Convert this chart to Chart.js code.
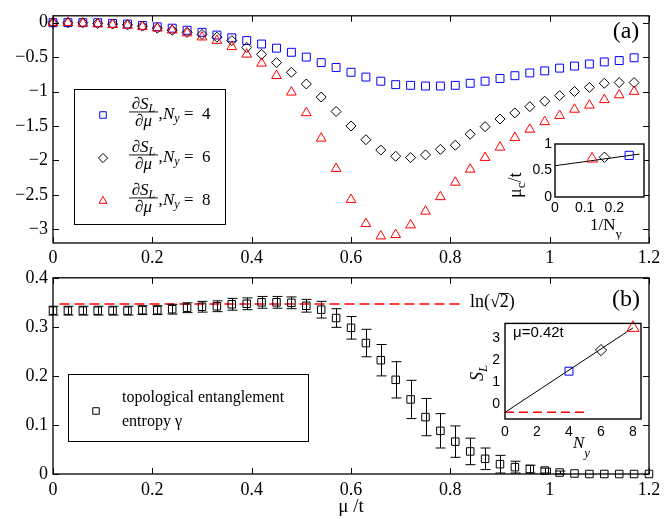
<!DOCTYPE html>
<html>
<head>
<meta charset="utf-8">
<script src="https://cdn.jsdelivr.net/npm/chart.js@4.4.1/dist/chart.umd.min.js"></script>
<style>
  html, body { margin: 0; padding: 0; background: #fff; }
  #wrap { position: relative; width: 672px; height: 519px; overflow: hidden; background: #fff; }
  canvas { position: absolute; }
</style>
</head>
<body>
<div id="wrap">
  <canvas id="chartA" width="672" height="272" style="left:0px;top:0px"></canvas>
  <canvas id="chartB" width="672" height="257" style="left:0px;top:262px"></canvas>
  <canvas id="insetA" width="160" height="110" style="left:505px;top:130px"></canvas>
  <canvas id="insetB" width="200" height="155" style="left:460px;top:310px"></canvas>
</div>
<script>
// ---- panel (a): dS_L/dmu for three widths
const muA = [0, 0.03, 0.06, 0.09, 0.12, 0.15, 0.18, 0.21, 0.24, 0.27,
  0.30, 0.33, 0.36, 0.39, 0.42, 0.45, 0.48, 0.51, 0.54, 0.57,
  0.60, 0.63, 0.66, 0.69, 0.72, 0.75, 0.78, 0.81, 0.84, 0.87,
  0.90, 0.93, 0.96, 0.99, 1.02, 1.05, 1.08, 1.11, 1.14, 1.17];
const dS4 = [0, 0, 0, 0, -0.01, -0.02, -0.04, -0.06, -0.08, -0.11,
  -0.14, -0.18, -0.22, -0.26, -0.31, -0.37, -0.43, -0.50, -0.58, -0.65,
  -0.72, -0.79, -0.85, -0.90, -0.91, -0.92, -0.92, -0.91, -0.88, -0.85,
  -0.81, -0.77, -0.73, -0.70, -0.66, -0.63, -0.60, -0.57, -0.55, -0.51];
const dS6 = [0, 0, 0, -0.01, -0.02, -0.03, -0.05, -0.08, -0.11, -0.14,
  -0.17, -0.21, -0.26, -0.36, -0.46, -0.58, -0.72, -0.89, -1.08, -1.29,
  -1.50, -1.70, -1.85, -1.94, -1.96, -1.92, -1.84, -1.78, -1.62, -1.51,
  -1.40, -1.31, -1.22, -1.14, -1.06, -1.00, -0.94, -0.88, -0.87, -0.87];
const dS8 = [0, 0, -0.01, -0.02, -0.03, -0.04, -0.06, -0.08, -0.11, -0.15,
  -0.21, -0.26, -0.35, -0.46, -0.59, -0.77, -1.01, -1.31, -1.68, -2.12,
  -2.57, -2.92, -3.10, -3.08, -2.94, -2.74, -2.53, -2.32, -2.13, -1.96,
  -1.81, -1.67, -1.55, -1.44, -1.35, -1.26, -1.20, -1.12, -1.05, -1.00];
const widthsNy = [4, 6, 8];

// ---- panel (b): topological entanglement entropy
const muB = [0, 0.03, 0.06, 0.09, 0.12, 0.15, 0.18, 0.21, 0.24, 0.27,
  0.30, 0.33, 0.36, 0.39, 0.42, 0.45, 0.48, 0.51, 0.54, 0.57,
  0.60, 0.63, 0.66, 0.69, 0.72, 0.75, 0.78, 0.81, 0.84, 0.87,
  0.90, 0.93, 0.96, 0.99, 1.02, 1.05, 1.08, 1.11, 1.14, 1.17, 1.20];
const gamma = [0.333, 0.333, 0.333, 0.333, 0.333, 0.333, 0.334, 0.334, 0.336, 0.339,
  0.341, 0.342, 0.346, 0.347, 0.350, 0.350, 0.349, 0.343, 0.335, 0.318,
  0.298, 0.267, 0.232, 0.192, 0.152, 0.116, 0.088, 0.066, 0.046, 0.031,
  0.020, 0.014, 0.010, 0.007, 0.003, 0.001, 0, 0, 0, 0, 0];
const gammaErr = [0.009, 0.009, 0.009, 0.009, 0.009, 0.009, 0.009, 0.009, 0.010, 0.010,
  0.011, 0.011, 0.012, 0.012, 0.012, 0.012, 0.012, 0.013, 0.017, 0.019,
  0.023, 0.028, 0.032, 0.037, 0.039, 0.038, 0.035, 0.032, 0.027, 0.022,
  0.018, 0.012, 0.008, 0.005, 0.003, 0, 0, 0, 0, 0, 0];
const lnLineX = [0.013, 0.82];
const LN_SQRT2 = 0.3466;

const xTicks = [0, 0.2, 0.4, 0.6, 0.8, 1, 1.2];
const yTicksA = [-3, -2.5, -2, -1.5, -1, -0.5, 0];
const yTicksB = [0, 0.1, 0.2, 0.3, 0.4];

// ---- inset (a): critical mu vs 1/Ny
const invNy = [0.25, 0.1667, 0.125];
const muC = [0.785, 0.75, 0.72];
const fitAx = [0, 0.285];
const fitAy = [0.59, 0.81];
const insetAxTicks = [0, 0.1, 0.2];
const insetAyTicks = [0, 0.5, 1];

// ---- inset (b): S_L vs Ny at mu = 0.42t
const SL = [1.5, 2.45, 3.45];
const fitBx = [0, 8];
const fitBy = [-0.35, 3.45];
const gammaLineX = [0, 5.2];
const gammaLineY = [-0.35, -0.35];
const insetBxTicks = [0, 2, 4, 6, 8];
const insetByTicks = [0, 1, 2, 3];

const COLORS = ['#0000ff', '#000000', '#ff0000'];
const STYLES = ['rect', 'rectRot', 'triangle'];
const SERIF = '"Liberation Serif"';
const SANS = '"Liberation Sans"';
const B_TOP = 262;

Chart.defaults.font.family = SERIF;
Chart.defaults.color = '#000';
Chart.defaults.animation = false;

const pts = (xs, ys) => xs.map((x, i) => ({ x: x, y: ys[i] }));
const minus = v => (v < 0 ? '\u2212' + Math.abs(v) : String(v));

function axis(min, max, ticks, o) {
  return {
    type: 'linear', min: min, max: max,
    grid: { display: false, drawTicks: false, tickLength: 0 },
    border: { display: false },
    afterBuildTicks: s => { s.ticks = ticks.map(v => ({ value: v })); },
    ticks: { color: '#000', font: o.font, padding: o.pad, autoSkip: false, maxRotation: 0,
             callback: o.cb || (v => String(v)) },
    afterFit: s => {
      if (o.w != null) s.width = o.w;
      if (o.h != null) s.height = o.h;
    },
    title: o.title || { display: false }
  };
}

function frame(lw, tickLen) {
  return {
    id: 'frame',
    beforeDatasetsDraw(chart) {
      const { ctx, chartArea: a } = chart;
      ctx.save();
      ctx.fillStyle = '#fff';
      ctx.fillRect(a.left, a.top, a.right - a.left, a.bottom - a.top);
      ctx.restore();
    },
    afterDraw(chart) {
      const { ctx, chartArea: a, scales } = chart;
      ctx.save();
      ctx.strokeStyle = '#000';
      ctx.lineWidth = lw;
      ctx.strokeRect(a.left, a.top, a.right - a.left, a.bottom - a.top);
      if (tickLen) {
        ctx.lineWidth = 1;
        ctx.beginPath();
        scales.x.ticks.forEach(t => {
          const px = Math.round(scales.x.getPixelForValue(t.value)) + 0.5;
          ctx.moveTo(px, a.bottom); ctx.lineTo(px, a.bottom - tickLen);
          ctx.moveTo(px, a.top); ctx.lineTo(px, a.top + tickLen);
        });
        scales.y.ticks.forEach(t => {
          const py = Math.round(scales.y.getPixelForValue(t.value)) + 0.5;
          ctx.moveTo(a.left, py); ctx.lineTo(a.left + tickLen, py);
          ctx.moveTo(a.right, py); ctx.lineTo(a.right - tickLen, py);
        });
        ctx.stroke();
      }
      ctx.restore();
    }
  };
}

// draw a run of text pieces [text, font, dy] left to right, returns width
function run(ctx, parts, x, y, measureOnly) {
  let cx = x;
  parts.forEach(p => {
    ctx.font = p[1];
    if (!measureOnly) ctx.fillText(p[0], cx, y + (p[2] || 0));
    cx += ctx.measureText(p[0]).width;
  });
  return cx - x;
}

function rotRun(ctx, parts, x, y) {
  ctx.save();
  ctx.translate(x, y);
  ctx.rotate(-Math.PI / 2);
  run(ctx, parts, 0, 0);
  ctx.restore();
}

function marker(ctx, style, color, r, x, y) {
  ctx.save();
  ctx.strokeStyle = color;
  ctx.fillStyle = 'rgba(0,0,0,0)';
  ctx.lineWidth = 1;
  Chart.helpers.drawPoint(ctx, { pointStyle: style, radius: r, borderWidth: 1, rotation: 0 }, x, y);
  ctx.restore();
}

const legendA = {
  id: 'legendA',
  afterDraw(chart) {
    const ctx = chart.ctx;
    ctx.save();
    ctx.fillStyle = '#fff';
    ctx.fillRect(74, 89, 152, 135);
    ctx.strokeStyle = '#000';
    ctx.lineWidth = 1;
    ctx.strokeRect(74.5, 89.5, 151, 135);
    const IT = 'italic 17px ' + SERIF, SUB = 'italic 12px ' + SERIF, RM = '17px ' + SERIF;
    ctx.textBaseline = 'alphabetic';
    widthsNy.forEach((n, i) => {
      const cy = 115 + 43 * i;
      marker(ctx, STYLES[i], COLORS[i], 4.6, 103, cy);
      ctx.fillStyle = '#000';
      const num = [['\u2202', IT], ['S', IT], ['L', SUB, 3]];
      const den = [['\u2202', IT], ['\u03bc', IT]];
      const wn = run(ctx, num, 0, 0, true), wd = run(ctx, den, 0, 0, true);
      run(ctx, num, 143.5 - wn / 2, cy - 6.5);
      run(ctx, den, 143.5 - wd / 2, cy + 11);
      ctx.fillRect(129, cy - 3.5, 29, 0.9);
      run(ctx, [[',', RM]], 158.5, cy + 4);
      run(ctx, [['N', IT], ['y', SUB, 3]], 163, cy + 4);
      run(ctx, [['=', RM]], 184, cy + 4);
      run(ctx, [[String(n), RM]], 202, cy + 4);
    });
    ctx.font = '24px ' + SERIF;
    ctx.textAlign = 'center';
    ctx.textBaseline = 'middle';
    ctx.fillText('(a)', 626, 32);
    ctx.restore();
  }
};

const errorBars = {
  id: 'errorBars',
  afterDatasetsDraw(chart) {
    const { ctx, scales: { x, y } } = chart;
    ctx.save();
    ctx.strokeStyle = '#000';
    ctx.lineWidth = 1;
    ctx.beginPath();
    muB.forEach((m, i) => {
      const e = gammaErr[i];
      if (!e) return;
      const px = Math.round(x.getPixelForValue(m)) + 0.5;
      const y1 = y.getPixelForValue(gamma[i] + e), y2 = y.getPixelForValue(gamma[i] - e);
      ctx.moveTo(px, y1); ctx.lineTo(px, y2);
      ctx.moveTo(px - 5, y1); ctx.lineTo(px + 5, y1);
      ctx.moveTo(px - 5, y2); ctx.lineTo(px + 5, y2);
    });
    ctx.stroke();
    ctx.restore();
  }
};

const legendB = {
  id: 'legendB',
  afterDraw(chart) {
    const ctx = chart.ctx;
    ctx.save();
    ctx.fillStyle = '#fff';
    ctx.fillRect(68, 374 - B_TOP, 240, 68);
    ctx.strokeStyle = '#000';
    ctx.lineWidth = 1;
    ctx.strokeRect(68.5, 374.5 - B_TOP, 240, 67);
    marker(ctx, 'rect', '#000', 4.6, 96, 411 - B_TOP);
    ctx.fillStyle = '#000';
    ctx.font = '16px ' + SERIF;
    ctx.textBaseline = 'middle';
    ctx.fillText('topological entanglement', 122, 398 - B_TOP);
    ctx.fillText('entropy \u03b3', 122, 422 - B_TOP);
    // ln(sqrt2) label
    ctx.font = '18px ' + SERIF;
    const lx = 470, ly = 302 - B_TOP;
    ctx.fillText('ln(\u221a2)', lx, ly);
    const w0 = ctx.measureText('ln(\u221a').width, w1 = ctx.measureText('ln(\u221a2').width;
    ctx.fillRect(lx + w0 - 1, ly - 9, w1 - w0 + 1, 0.9);
    ctx.font = '24px ' + SERIF;
    ctx.textAlign = 'center';
    ctx.fillText('(b)', 626, 300 - B_TOP);
    ctx.restore();
  }
};

const labelsInsetA = {
  id: 'labelsInsetA',
  afterDraw(chart) {
    const ctx = chart.ctx;
    ctx.save();
    ctx.fillStyle = '#000';
    ctx.textBaseline = 'alphabetic';
    run(ctx, [['1/N', '17px ' + SERIF], ['y', '13px ' + SERIF, 8]], 590 - 505, 230 - 130);
    rotRun(ctx, [['\u03bc', '18px ' + SERIF], ['c', '13px ' + SERIF, 4], ['/t', '18px ' + SERIF]], 521 - 505, 198 - 130);
    ctx.restore();
  }
};

const labelsInsetB = {
  id: 'labelsInsetB',
  afterDraw(chart) {
    const ctx = chart.ctx;
    ctx.save();
    ctx.fillStyle = '#000';
    ctx.textBaseline = 'alphabetic';
    run(ctx, [['N', 'italic 17px ' + SERIF], ['y', 'italic 13px ' + SERIF, 9]], 573 - 460, 448 - 310);
    rotRun(ctx, [['S', 'italic 18px ' + SERIF], ['L', 'italic 13px ' + SERIF, 4]], 483 - 460, 381 - 310);
    ctx.font = '15px ' + SANS;
    ctx.textBaseline = 'middle';
    ctx.fillText('\u03bc=0.42t', 513 - 460, 333 - 310);
    ctx.restore();
  }
};

const common = {
  responsive: false,
  devicePixelRatio: 1,
  animation: false,
  events: [],
  plugins: { legend: { display: false }, tooltip: { enabled: false } }
};

// panel (a)
new Chart(document.getElementById('chartA'), {
  type: 'scatter',
  data: {
    datasets: [dS4, dS6, dS8].map((ys, i) => ({
      data: pts(muA, ys),
      showLine: false,
      pointStyle: STYLES[i],
      pointRadius: [5.6, 5, 5.6][i],
      pointBorderColor: COLORS[i],
      pointBackgroundColor: 'rgba(0,0,0,0)',
      pointBorderWidth: 1,
      order: 2 - i,
      clip: false
    }))
  },
  options: Object.assign({}, common, {
    layout: { padding: { top: 9, right: 23, left: 0, bottom: 0 } },
    scales: {
      x: axis(0, 1.2, xTicks, { font: { size: 18 }, pad: 4, h: 29 }),
      y: axis(-3.2, 0.1, yTicksA, { font: { size: 18 }, pad: 5, w: 53, cb: minus })
    }
  }),
  plugins: [frame(1.3, 6), legendA]
});

// panel (b)
new Chart(document.getElementById('chartB'), {
  type: 'scatter',
  data: {
    datasets: [
      {
        data: pts(muB, gamma),
        showLine: false,
        pointStyle: 'rect',
        pointRadius: 5.3,
        pointBorderColor: '#000',
        pointBackgroundColor: 'rgba(0,0,0,0)',
        pointBorderWidth: 1,
        clip: false
      },
      {
        type: 'line',
        data: pts(lnLineX, [LN_SQRT2, LN_SQRT2]),
        borderColor: '#ff0000',
        borderWidth: 1.5,
        borderDash: [10, 5],
        pointRadius: 0,
        fill: false
      }
    ]
  },
  options: Object.assign({}, common, {
    layout: { padding: { top: 14, right: 23, left: 0, bottom: 0 } },
    scales: {
      x: axis(0, 1.2, xTicks, {
        font: { size: 18 }, pad: 5, h: 45,
        title: { display: true, text: '\u03bc /t', font: { size: 19 }, padding: { top: 0, bottom: 1 } }
      }),
      y: axis(0, 0.4, yTicksB, { font: { size: 18 }, pad: 5, w: 53 })
    }
  }),
  plugins: [frame(1.3, 6), errorBars, legendB]
});

// inset (a)
new Chart(document.getElementById('insetA'), {
  type: 'scatter',
  data: {
    datasets: [
      {
        data: pts(invNy, muC),
        showLine: false,
        pointStyle: STYLES,
        pointRadius: [5.8, 5.2, 6.4],
        pointBorderColor: COLORS,
        pointBackgroundColor: 'rgba(0,0,0,0)',
        pointBorderWidth: 1,
        clip: false
      },
      {
        type: 'line',
        data: pts(fitAx, fitAy),
        borderColor: '#000',
        borderWidth: 1,
        pointRadius: 0,
        fill: false
      }
    ]
  },
  options: Object.assign({}, common, {
    layout: { padding: { top: 14, right: 21, left: 0, bottom: 0 } },
    scales: {
      x: axis(0, 0.3, insetAxTicks, { font: { family: SANS, size: 14 }, pad: 3, h: 43 }),
      y: axis(0, 1, insetAyTicks, { font: { family: SANS, size: 14 }, pad: 3, w: 50 })
    }
  }),
  plugins: [frame(1.4, 0), labelsInsetA]
});

// inset (b)
new Chart(document.getElementById('insetB'), {
  type: 'scatter',
  data: {
    datasets: [
      {
        data: pts(widthsNy, SL),
        showLine: false,
        pointStyle: STYLES,
        pointRadius: [5.6, 5.6, 7],
        pointBorderColor: COLORS,
        pointBackgroundColor: 'rgba(0,0,0,0)',
        pointBorderWidth: 1,
        clip: false
      },
      {
        type: 'line',
        data: pts(fitBx, fitBy),
        borderColor: '#000',
        borderWidth: 1,
        pointRadius: 0,
        fill: false
      },
      {
        type: 'line',
        data: pts(gammaLineX, gammaLineY),
        borderColor: '#ff0000',
        borderWidth: 1.5,
        borderDash: [9, 5],
        pointRadius: 0,
        fill: false
      }
    ]
  },
  options: Object.assign({}, common, {
    layout: { padding: { top: 11, right: 19, left: 0, bottom: 0 } },
    scales: {
      x: axis(0, 8.5, insetBxTicks, { font: { family: SANS, size: 14 }, pad: 5, h: 46 }),
      y: axis(-0.65, 3.65, insetByTicks, { font: { family: SANS, size: 14 }, pad: 5, w: 45 })
    }
  }),
  plugins: [frame(1.4, 0), labelsInsetB]
});
</script>
</body>
</html>
